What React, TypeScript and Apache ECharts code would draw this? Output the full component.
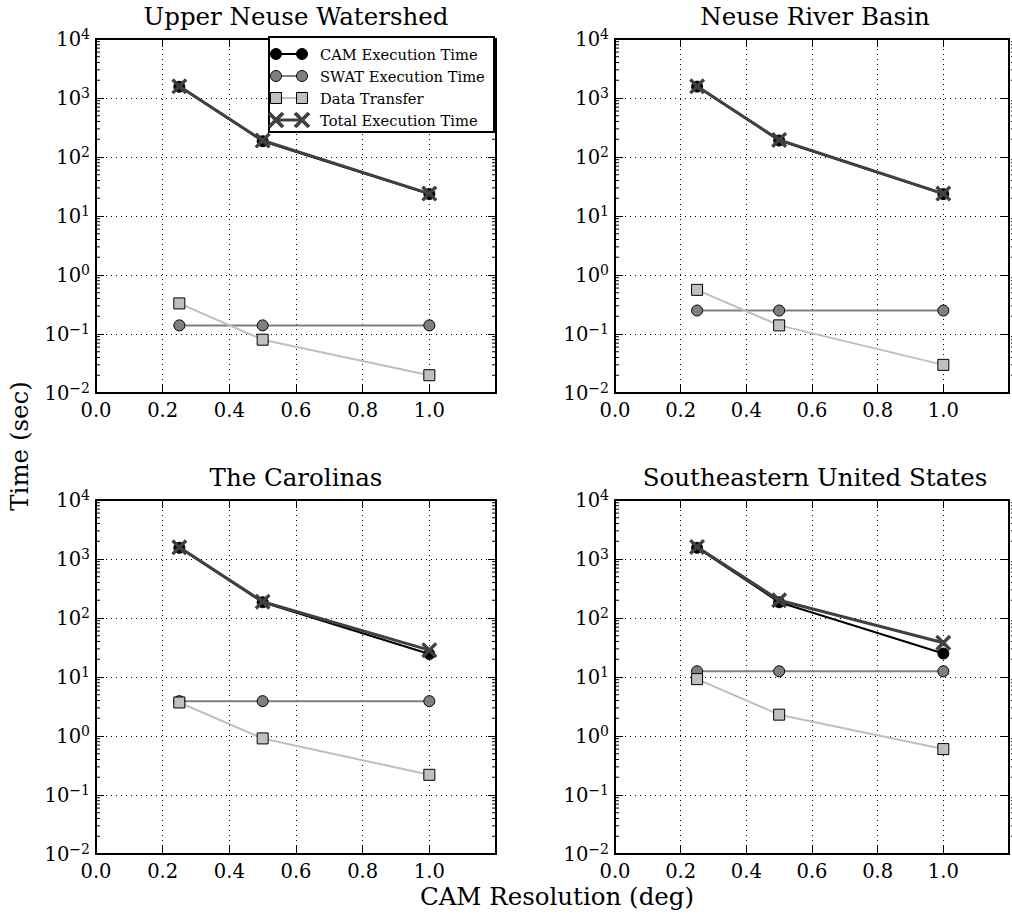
import React, { useEffect, useRef } from "react";
import * as echarts from "echarts";

// ---------- data ----------
const resolutions = [0.25, 0.5, 1.0];
const panelTitles = [
  "Upper Neuse Watershed",
  "Neuse River Basin",
  "The Carolinas",
  "Southeastern United States",
];
const camTime = [
  [1550, 185, 23.5],
  [1560, 190, 23.5],
  [1550, 185, 24.5],
  [1550, 185, 25],
];
const swatTime = [
  [0.14, 0.14, 0.14],
  [0.25, 0.25, 0.25],
  [3.9, 3.9, 3.9],
  [12.5, 12.5, 12.5],
];
const dataTransfer = [
  [0.33, 0.08, 0.02],
  [0.56, 0.14, 0.03],
  [3.7, 0.91, 0.22],
  [9.2, 2.3, 0.6],
];
const totalTime = [
  [1580, 190, 24],
  [1580, 195, 24],
  [1580, 189, 28.5],
  [1600, 200, 38],
];
const seriesNames = [
  "CAM Execution Time",
  "SWAT Execution Time",
  "Data Transfer",
  "Total Execution Time",
];
const xMin = 0;
const xMax = 1.2;
const xStep = 0.2;
const yMin = 0.01;
const yMax = 10000;
const minorMultipliers = [2, 3, 4, 5, 6, 7, 8, 9];
const decadeExponents = [-2, -1, 0, 1, 2, 3];

// ---------- styles ----------
const FONT = "DejaVu Serif";
const grids = [
  { left: 96, top: 39, width: 400, height: 354 },
  { left: 615, top: 39, width: 400, height: 354 },
  { left: 96, top: 500, width: 400, height: 354 },
  { left: 615, top: 500, width: 400, height: 354 },
];
const XPATH =
  "path://M0,3 L3,0 L10,7 L17,0 L20,3 L13,10 L20,17 L17,20 L10,13 L3,20 L0,17 L7,10 Z";
const styles = [
  { symbol: "circle", size: 11, fill: "#000000", line: "#000000", lw: 2, border: 1 },
  { symbol: "circle", size: 11, fill: "#7f7f7f", line: "#7f7f7f", lw: 2, border: 1 },
  { symbol: "rect", size: 11, fill: "#c0c0c0", line: "#bfbfbf", lw: 2, border: 1 },
  { symbol: XPATH, size: 16, fill: "#404040", line: "#404040", lw: 3, border: 0 },
];

const MINUS = "\u2212";
const TICK_FS = 19.5;
const SUP_FS = 14;
const BIG_FS = 24.5;
const LEGEND_FS = 14.7;

export default function App() {
  const ref = useRef<HTMLDivElement>(null);
  useEffect(() => {
    document.body.style.margin = "0";
    const chart = echarts.init(ref.current!, undefined, { renderer: "svg" });

    const xAxes: any[] = [];
    const yAxes: any[] = [];
    const series: any[] = [];
    const graphics: any[] = [];

    grids.forEach((g, i) => {
      xAxes.push({
        type: "value",
        gridIndex: i,
        min: xMin,
        max: xMax,
        interval: xStep,
        position: "bottom",
        axisLine: { show: true, onZero: false, lineStyle: { color: "#000", width: 2 } },
        axisTick: { show: true, inside: true, length: 8, lineStyle: { color: "#000", width: 1 } },
        axisLabel: {
          show: true,
          color: "#000",
          fontFamily: FONT,
          fontSize: TICK_FS,
          margin: 7,
          formatter: (v: number) => (v > 1.1 ? "" : v.toFixed(1)),
        },
        splitLine: { show: true, lineStyle: { color: "#000", width: 1, type: [1, 4] } },
      });
      xAxes.push({
        type: "value",
        gridIndex: i,
        min: xMin,
        max: xMax,
        interval: xStep,
        position: "top",
        axisLine: { show: true, onZero: false, lineStyle: { color: "#000", width: 2 } },
        axisTick: { show: true, inside: true, length: 8, lineStyle: { color: "#000", width: 1 } },
        axisLabel: { show: false },
        splitLine: { show: false },
      });
      yAxes.push({
        type: "log",
        logBase: 10,
        gridIndex: i,
        min: yMin,
        max: yMax,
        splitNumber: 6,
        position: "left",
        axisLine: { show: true, onZero: false, lineStyle: { color: "#000", width: 2 } },
        axisTick: { show: true, inside: true, length: 8, lineStyle: { color: "#000", width: 1 } },
        axisLabel: {
          show: true,
          margin: 6,
          formatter: (v: number) => {
            const e = Math.round(Math.log10(v));
            const es = String(e).replace("-", MINUS);
            return `{b|10}{s|${es}}`;
          },
          rich: {
            b: { fontFamily: FONT, fontSize: TICK_FS, color: "#000" },
            s: { fontFamily: FONT, fontSize: SUP_FS, color: "#000", padding: [0, 0, 11, 0] },
          },
        },
        splitLine: { show: true, lineStyle: { color: "#000", width: 1, type: [1, 4] } },
      });
      yAxes.push({
        type: "log",
        logBase: 10,
        gridIndex: i,
        min: yMin,
        max: yMax,
        splitNumber: 6,
        position: "right",
        axisLine: { show: true, onZero: false, lineStyle: { color: "#000", width: 2 } },
        axisTick: { show: true, inside: true, length: 8, lineStyle: { color: "#000", width: 1 } },
        axisLabel: { show: false },
        splitLine: { show: false },
      });

      const sets = [camTime[i], swatTime[i], dataTransfer[i], totalTime[i]];
      sets.forEach((vals, k) => {
        const st = styles[k];
        series.push({
          type: "line",
          name: seriesNames[k],
          xAxisIndex: i * 2,
          yAxisIndex: i * 2,
          data: resolutions.map((x, j) => [x, vals[j]]),
          symbol: st.symbol,
          symbolSize: st.size,
          showAllSymbol: true,
          lineStyle: { color: st.line, width: st.lw },
          itemStyle: { color: st.fill, borderColor: "#000", borderWidth: st.border },
          z: 3 + k,
          silent: true,
        });
      });

      graphics.push({
        type: "text",
        x: g.left + g.width / 2,
        y: g.top - 23,
        style: {
          text: panelTitles[i],
          fontFamily: FONT,
          fontSize: BIG_FS,
          fill: "#000",
          textAlign: "center",
          textVerticalAlign: "middle",
        },
      });
    });

    graphics.push({
      type: "text",
      x: 19,
      y: 446,
      rotation: Math.PI / 2,
      style: {
        text: "Time (sec)",
        fontFamily: FONT,
        fontSize: BIG_FS,
        fill: "#000",
        textAlign: "center",
        textVerticalAlign: "middle",
      },
    });
    graphics.push({
      type: "text",
      x: 557,
      y: 896,
      style: {
        text: "CAM Resolution (deg)",
        fontFamily: FONT,
        fontSize: BIG_FS,
        fill: "#000",
        textAlign: "center",
        textVerticalAlign: "middle",
      },
    });

    // legend (drawn above the plot)
    const LZ = 100;
    const lgX = 269;
    const lgY = 37;
    graphics.push({
      type: "rect",
      z: LZ,
      shape: { x: lgX, y: lgY, width: 225, height: 95 },
      style: { fill: "#fff", stroke: "#000", lineWidth: 2 },
    });
    const rowY = [54, 76, 98, 120];
    const m1 = 276;
    const m2 = 302;
    styles.forEach((st, k) => {
      const y = rowY[k];
      graphics.push({
        type: "line",
        z: LZ + 1,
        shape: { x1: m1, y1: y, x2: m2, y2: y },
        style: { stroke: st.line, lineWidth: st.lw },
      });
      [m1, m2].forEach((mx) => {
        if (k === 0 || k === 1) {
          graphics.push({
            type: "circle",
            z: LZ + 2,
            shape: { cx: mx, cy: y, r: 5.5 },
            style: { fill: st.fill, stroke: "#000", lineWidth: 1 },
          });
        } else if (k === 2) {
          graphics.push({
            type: "rect",
            z: LZ + 2,
            shape: { x: mx - 5.5, y: y - 5.5, width: 11, height: 11 },
            style: { fill: st.fill, stroke: "#000", lineWidth: 1 },
          });
        } else {
          graphics.push({
            type: "line",
            z: LZ + 2,
            shape: { x1: mx - 7, y1: y - 7, x2: mx + 7, y2: y + 7 },
            style: { stroke: st.fill, lineWidth: 3.8 },
          });
          graphics.push({
            type: "line",
            z: LZ + 2,
            shape: { x1: mx - 7, y1: y + 7, x2: mx + 7, y2: y - 7 },
            style: { stroke: st.fill, lineWidth: 3.8 },
          });
        }
      });
      graphics.push({
        type: "text",
        z: LZ + 2,
        x: 320,
        y,
        style: {
          text: seriesNames[k],
          fontFamily: FONT,
          fontSize: LEGEND_FS,
          fill: "#000",
          textVerticalAlign: "middle",
        },
      });
    });

    chart.setOption({
      animation: false,
      backgroundColor: "#fff",
      grid: grids.map((g) => ({ ...g, containLabel: false, show: false })),
      xAxis: xAxes,
      yAxis: yAxes,
      series,
      graphic: graphics,
    });

    // minor log ticks on left and right spines, positioned via the axis scale
    const minor: any[] = [];
    grids.forEach((g, i) => {
      decadeExponents.forEach((e) => {
        minorMultipliers.forEach((m) => {
          const v = m * Math.pow(10, e);
          const p = chart.convertToPixel({ xAxisIndex: i * 2, yAxisIndex: i * 2 }, [0, v]) as number[];
          if (!p) return;
          const y = p[1];
          minor.push({
            type: "line",
            z: 50,
            shape: { x1: g.left, y1: y, x2: g.left + 4, y2: y },
            style: { stroke: "#000", lineWidth: 1 },
          });
          minor.push({
            type: "line",
            z: 50,
            shape: { x1: g.left + g.width - 4, y1: y, x2: g.left + g.width, y2: y },
            style: { stroke: "#000", lineWidth: 1 },
          });
        });
      });
    });
    chart.setOption({ graphic: [...graphics, ...minor] });

    return () => chart.dispose();
  }, []);
  return <div ref={ref} style={{ width: 1012, height: 917 }} />;
}
